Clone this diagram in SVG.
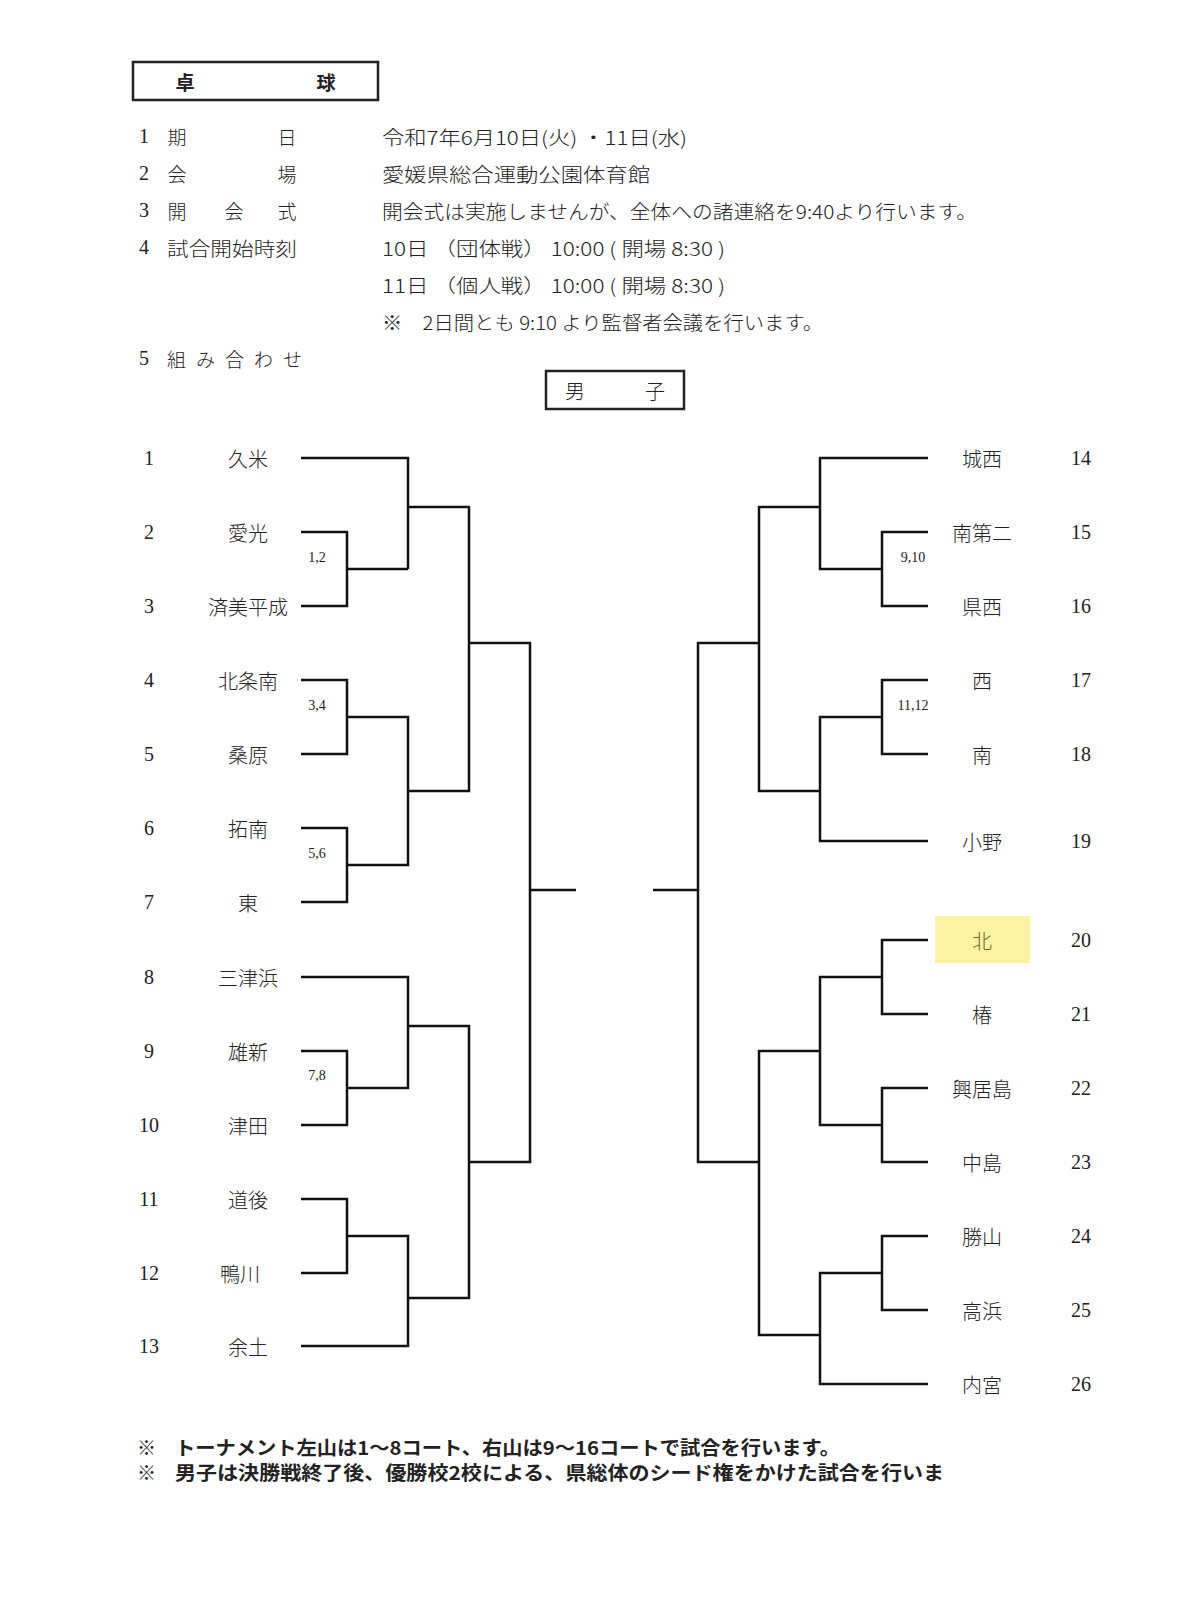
<svg xmlns="http://www.w3.org/2000/svg" width="1200" height="1609" viewBox="0 0 1200 1609">
<style>
text{font-family:"Liberation Serif","Noto Sans CJK JP",serif;fill:#222}
.j{font-family:"Noto Sans CJK JP",sans-serif;font-size:19px;font-weight:300}
.h{font-size:20px;font-family:"Liberation Serif","Noto Sans CJK JP",serif}
.n{font-size:20px;text-anchor:middle;dominant-baseline:central}
.m{font-family:"Noto Sans CJK JP",sans-serif;font-size:20px;font-weight:300;text-anchor:middle;dominant-baseline:central}
.s{font-size:14px;text-anchor:middle;dominant-baseline:central}
.b{font-family:"Noto Sans CJK JP",sans-serif;font-weight:bold;font-size:19px}
.box{fill:none;stroke:#222;stroke-width:2.5}
#connectors path{fill:none;stroke:#111;stroke-width:2.5}
</style>
<rect width="1200" height="1609" fill="#fff"/>
<g id="title">
<rect class="box" x="133" y="62" width="245" height="38"/>
<text class="b" x="185" y="81" text-anchor="middle" dominant-baseline="central">卓</text>
<text class="b" x="326" y="81" text-anchor="middle" dominant-baseline="central">球</text>
</g>
<g id="info" dominant-baseline="central">
<text class="h" x="144" y="136" text-anchor="middle">1</text><text class="j" x="177" y="136" text-anchor="middle">期</text><text class="j" x="287" y="136" text-anchor="middle">日</text>
<text class="j" x="382" y="136" textLength="305" lengthAdjust="spacingAndGlyphs">令和7年6月10日(火) ・11日(水)</text>
<text class="h" x="144" y="173" text-anchor="middle">2</text><text class="j" x="177" y="173" text-anchor="middle">会</text><text class="j" x="287" y="173" text-anchor="middle">場</text>
<text class="j" x="382" y="173" textLength="268" lengthAdjust="spacingAndGlyphs">愛媛県総合運動公園体育館</text>
<text class="h" x="144" y="210" text-anchor="middle">3</text><text class="j" x="177" y="210" text-anchor="middle">開</text><text class="j" x="234" y="210" text-anchor="middle">会</text><text class="j" x="287" y="210" text-anchor="middle">式</text>
<text class="j" x="382" y="210" textLength="595" lengthAdjust="spacingAndGlyphs">開会式は実施しませんが、全体への諸連絡を9:40より行います。</text>
<text class="h" x="144" y="247" text-anchor="middle">4</text><text class="j" x="167" y="247" textLength="130" lengthAdjust="spacingAndGlyphs">試合開始時刻</text>
<text class="j" x="382" y="247" textLength="343" lengthAdjust="spacingAndGlyphs">10日 （団体戦） 10:00 ( 開場 8:30 )</text>
<text class="j" x="382" y="284" textLength="343" lengthAdjust="spacingAndGlyphs">11日 （個人戦） 10:00 ( 開場 8:30 )</text>
<text class="j" x="382" y="321" textLength="441" lengthAdjust="spacingAndGlyphs">※　2日間とも 9:10 より監督者会議を行います。</text>
<text class="h" x="144" y="358" text-anchor="middle">5</text><text class="j" x="167" y="358" textLength="135" lengthAdjust="spacing">組 み 合 わ せ</text>
</g>
<g id="boys-title">
<rect class="box" x="546" y="371" width="138" height="38"/>
<text class="m" x="575" y="390">男</text><text class="m" x="655" y="390">子</text>
</g>
<rect id="highlight" x="935" y="916" width="95" height="47" fill="#fbf3a3"/>
<g id="left-teams">
<g id="L1"><text class="n" x="149" y="458">1</text><text class="m" x="248" y="458">久米</text></g>
<g id="L2"><text class="n" x="149" y="532">2</text><text class="m" x="248" y="532">愛光</text></g>
<g id="L3"><text class="n" x="149" y="606">3</text><text class="m" x="248" y="606">済美平成</text></g>
<g id="L4"><text class="n" x="149" y="680">4</text><text class="m" x="248" y="680">北条南</text></g>
<g id="L5"><text class="n" x="149" y="754">5</text><text class="m" x="248" y="754">桑原</text></g>
<g id="L6"><text class="n" x="149" y="828">6</text><text class="m" x="248" y="828">拓南</text></g>
<g id="L7"><text class="n" x="149" y="902">7</text><text class="m" x="248" y="902">東</text></g>
<g id="L8"><text class="n" x="149" y="977">8</text><text class="m" x="248" y="977">三津浜</text></g>
<g id="L9"><text class="n" x="149" y="1051">9</text><text class="m" x="248" y="1051">雄新</text></g>
<g id="L10"><text class="n" x="149" y="1125">10</text><text class="m" x="248" y="1125">津田</text></g>
<g id="L11"><text class="n" x="149" y="1199">11</text><text class="m" x="248" y="1199">道後</text></g>
<g id="L12"><text class="n" x="149" y="1273">12</text><text class="m" x="240" y="1273">鴨川</text></g>
<g id="L13"><text class="n" x="149" y="1346">13</text><text class="m" x="248" y="1346">余土</text></g>
</g>
<g id="right-teams">
<g id="R14"><text class="m" x="982" y="458">城西</text><text class="n" x="1081" y="458">14</text></g>
<g id="R15"><text class="m" x="982" y="532">南第二</text><text class="n" x="1081" y="532">15</text></g>
<g id="R16"><text class="m" x="982" y="606">県西</text><text class="n" x="1081" y="606">16</text></g>
<g id="R17"><text class="m" x="982" y="680">西</text><text class="n" x="1081" y="680">17</text></g>
<g id="R18"><text class="m" x="982" y="754">南</text><text class="n" x="1081" y="754">18</text></g>
<g id="R19"><text class="m" x="982" y="841">小野</text><text class="n" x="1081" y="841">19</text></g>
<g id="R20"><text class="m" x="982" y="940" style="fill:#6b6520">北</text><text class="n" x="1081" y="940">20</text></g>
<g id="R21"><text class="m" x="982" y="1014">椿</text><text class="n" x="1081" y="1014">21</text></g>
<g id="R22"><text class="m" x="982" y="1088">興居島</text><text class="n" x="1081" y="1088">22</text></g>
<g id="R23"><text class="m" x="982" y="1162">中島</text><text class="n" x="1081" y="1162">23</text></g>
<g id="R24"><text class="m" x="982" y="1236">勝山</text><text class="n" x="1081" y="1236">24</text></g>
<g id="R25"><text class="m" x="982" y="1310">高浜</text><text class="n" x="1081" y="1310">25</text></g>
<g id="R26"><text class="m" x="982" y="1384">内宮</text><text class="n" x="1081" y="1384">26</text></g>
</g>
<g id="connectors">
<path d="M301 458H408V569M301 532H347V606H301M347 569H408M408 507H469V791H408M301 680H347V754H301M347 717H408V865H347M301 828H347V902H301"/>
<path d="M469 643H530V1162H469M530 890H576"/>
<path d="M301 977H408V1088H347M301 1051H347V1125H301M408 1026H469V1298H408M301 1199H347V1273H301M347 1236H408V1346H301"/>
<path d="M928 458H820V569H882M928 532H882V606H928M820 507H759V791H820M928 680H882V754H928M882 717H820V841H928"/>
<path d="M759 643H698V1162H759M698 890H653"/>
<path d="M928 940H882V1014H928M882 977H820V1125H882M928 1088H882V1162H928M820 1051H759V1335H820M928 1236H882V1310H928M882 1273H820V1384H928"/>
</g>
<g id="match-labels">
<text class="s" x="317" y="557">1,2</text><text class="s" x="317" y="705">3,4</text><text class="s" x="317" y="853">5,6</text><text class="s" x="317" y="1075">7,8</text>
<text class="s" x="913" y="557">9,10</text><text class="s" x="913" y="705">11,12</text>
</g>
<g id="notes" dominant-baseline="central">
<text class="b" x="137" y="1446">※</text>
<text class="b" x="175" y="1446" textLength="665" lengthAdjust="spacingAndGlyphs">トーナメント左山は1～8コート、右山は9～16コートで試合を行います。</text>
<text class="b" x="137" y="1471">※</text>
<text class="b" x="175" y="1471" textLength="769" lengthAdjust="spacingAndGlyphs">男子は決勝戦終了後、優勝校2校による、県総体のシード権をかけた試合を行いま</text>
</g>
</svg>
